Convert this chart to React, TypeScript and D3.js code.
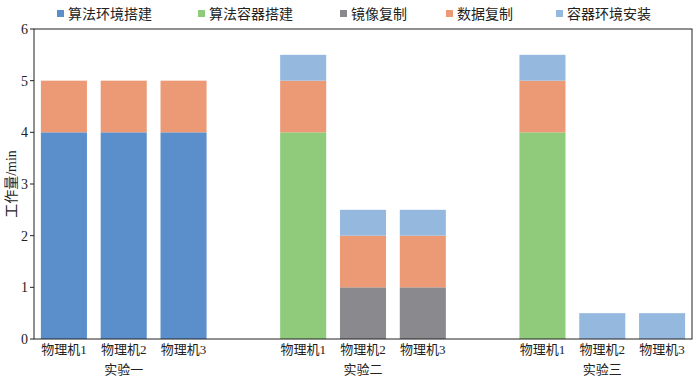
import React from "react";
import * as d3 from "d3";

const categories = ["物理机1", "物理机2", "物理机3", "", "物理机1", "物理机2", "物理机3", " ", "物理机1", "物理机2", "物理机3"];
const slotKeys = ["a1", "a2", "a3", "g1", "b1", "b2", "b3", "g2", "c1", "c2", "c3"];
const groups = ["实验一", "实验二", "实验三"];
const groupCenterSlot = ["a2", "b2", "c2"];
const seriesNames = ["算法环境搭建", "算法容器搭建", "镜像复制", "数据复制", "容器环境安装"];
const envBuild = [4, 4, 4, 0, 0, 0, 0, 0, 0, 0, 0];
const containerBuild = [0, 0, 0, 0, 4, 0, 0, 0, 4, 0, 0];
const imageCopy = [0, 0, 0, 0, 0, 1, 1, 0, 0, 0, 0];
const dataCopy = [1, 1, 1, 0, 1, 1, 1, 0, 1, 0, 0];
const envInstall = [0, 0, 0, 0, 0.5, 0.5, 0.5, 0, 0.5, 0.5, 0.5];
const yTicks = [0, 1, 2, 3, 4, 5, 6];
const colors = ["#5B8FCC", "#8FCB7A", "#8A8A8E", "#EC9A76", "#95B8DF"];

const W = 700, H = 384;
const M = { left: 34, right: 8, top: 29, bottom: 45 };
const font = "'Liberation Serif', 'Noto Sans CJK SC', serif";

export default function App() {
  const seriesVals = [envBuild, containerBuild, imageCopy, dataCopy, envInstall];
  const x = d3.scaleBand().domain(slotKeys).range([M.left, W - M.right]).paddingInner(0.23).paddingOuter(0.115);
  const y = d3.scaleLinear().domain([0, 6]).range([H - M.bottom, M.top]);
  const rows = slotKeys.map((k, i) => {
    const r: any = { key: k };
    seriesNames.forEach((s, j) => (r[s] = seriesVals[j][i]));
    return r;
  });
  const stacked = d3.stack().keys(seriesNames)(rows);
  const legendX = [57, 198, 340, 446, 556];
  return (
    <svg width={W} height={H} style={{ position: "absolute", left: 0, top: 0, background: "#fff" }} fontFamily={font}>
      {stacked.map((layer, j) => (
        <g key={j} fill={colors[j]}>
          {layer.map((d, i) =>
            d[1] - d[0] > 0 ? (
              <rect key={i} x={x(slotKeys[i])} width={x.bandwidth()} y={y(d[1])} height={y(d[0]) - y(d[1])} />
            ) : null
          )}
        </g>
      ))}
      <rect x={M.left} y={M.top} width={W - M.right - M.left} height={H - M.bottom - M.top} fill="none" stroke="#222" strokeWidth={1} />
      {yTicks.map((t) => (
        <g key={t}>
          <line x1={M.left - 4} x2={M.left} y1={y(t)} y2={y(t)} stroke="#222" />
          <text x={M.left - 6} y={y(t)} dy="0.35em" textAnchor="end" fontSize={14} fill="#222">{t}</text>
        </g>
      ))}
      {categories.map((c, i) =>
        c.trim() ? (
          <text key={i} x={x(slotKeys[i])! + x.bandwidth() / 2} y={354} textAnchor="middle" fontSize={13} fill="#222">{c}</text>
        ) : null
      )}
      {groups.map((g, i) => (
        <text key={g} x={x(groupCenterSlot[i])! + x.bandwidth() / 2} y={374} textAnchor="middle" fontSize={13} fill="#222">{g}</text>
      ))}
      <text transform={`translate(16,${(M.top + H - M.bottom) / 2}) rotate(-90)`} textAnchor="middle" fontSize={14} fill="#222">工作量/min</text>
      {seriesNames.map((s, j) => (
        <g key={s}>
          <rect x={legendX[j]} y={10} width={7} height={7} fill={colors[j]} />
          <text x={legendX[j] + 11} y={14} dy="0.35em" fontSize={14} fill="#222">{s}</text>
        </g>
      ))}
    </svg>
  );
}
